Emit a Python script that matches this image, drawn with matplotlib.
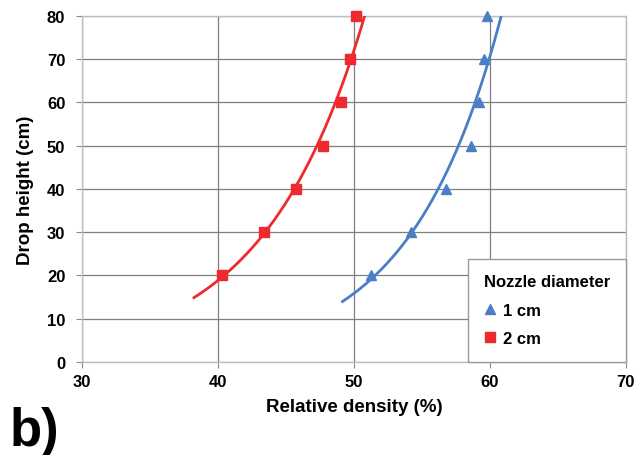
import numpy as np
import matplotlib
matplotlib.use("Agg")
import matplotlib.pyplot as plt
from matplotlib.lines import Line2D

plt.rcParams['font.family'] = ['Liberation Sans', 'DejaVu Sans']

heights = [20, 30, 40, 50, 60, 70, 80]
density_1cm = [51.27, 54.2, 56.74, 58.6, 59.19, 59.6, 59.8]
density_2cm = [40.3, 43.37, 45.77, 47.75, 49.04, 49.7, 50.12]
trend_range_1cm = [49.16, 61.0]
trend_range_2cm = [38.24, 50.97]
xticks = [30, 40, 50, 60, 70]
yticks = [0, 10, 20, 30, 40, 50, 60, 70, 80]

blue = '#4A7EC6'
red = '#EE2A2E'

fig = plt.figure(figsize=(6.4, 4.56), dpi=100)
ax = fig.add_axes([0.128, 0.204, 0.85, 0.759])

def exp_trend(x, y, xr):
    b, lna = np.polyfit(np.array(x), np.log(np.array(y, dtype=float)), 1)
    xs = np.linspace(xr[0], xr[1], 200)
    return xs, np.exp(lna + b * xs)

xs, ys = exp_trend(density_1cm, heights, trend_range_1cm)
ax.plot(xs, ys, color=blue, lw=2, zorder=3)
xs, ys = exp_trend(density_2cm, heights, trend_range_2cm)
ax.plot(xs, ys, color=red, lw=2, zorder=3)

ax.plot(density_1cm, heights, '^', color=blue, ms=7, ls='none', zorder=4, clip_on=False)
ax.plot(density_2cm, heights, 's', color=red, ms=6.5, ls='none', zorder=4, clip_on=False)

ax.set_xlim(30, 70)
ax.set_ylim(0, 80)
ax.set_xticks(xticks)
ax.set_yticks(yticks)
ax.grid(True, color='#7f7f7f', lw=0.9)
ax.set_axisbelow(True)
for s in ax.spines.values():
    s.set_color('#bfbfbf')
    s.set_linewidth(1)
ax.tick_params(axis='both', labelsize=12, color='#888888', length=4, width=0.8)
ax.tick_params(axis='x', pad=5)
ax.tick_params(axis='y', pad=8)
for lbl in ax.get_xticklabels() + ax.get_yticklabels():
    lbl.set_fontweight('bold')
ax.set_xlabel('Relative density (%)', fontsize=13.5, fontweight='bold', labelpad=6)
ax.set_ylabel('Drop height (cm)', fontsize=13.5, fontweight='bold', labelpad=9)

handles = [Line2D([], [], marker='^', color=blue, ls='none', ms=7),
           Line2D([], [], marker='s', color=red, ls='none', ms=6.5)]
leg = ax.legend(handles, ['1 cm', '2 cm'], title='Nozzle diameter', loc='lower right',
                bbox_to_anchor=(1.0, 0.0), fancybox=False, framealpha=1,
                edgecolor='#999999', prop={'weight': 'bold', 'size': 12},
                title_fontproperties={'weight': 'bold', 'size': 12},
                borderpad=0.95, handletextpad=0.45, labelspacing=0.8, borderaxespad=0,
                handlelength=0.7)
leg._legend_box.align = 'left'
leg.get_frame().set_linewidth(1)

fig.text(0.015, 0.023, 'b)', fontsize=38, fontweight='bold')

fig.savefig('out.png', dpi=100)
